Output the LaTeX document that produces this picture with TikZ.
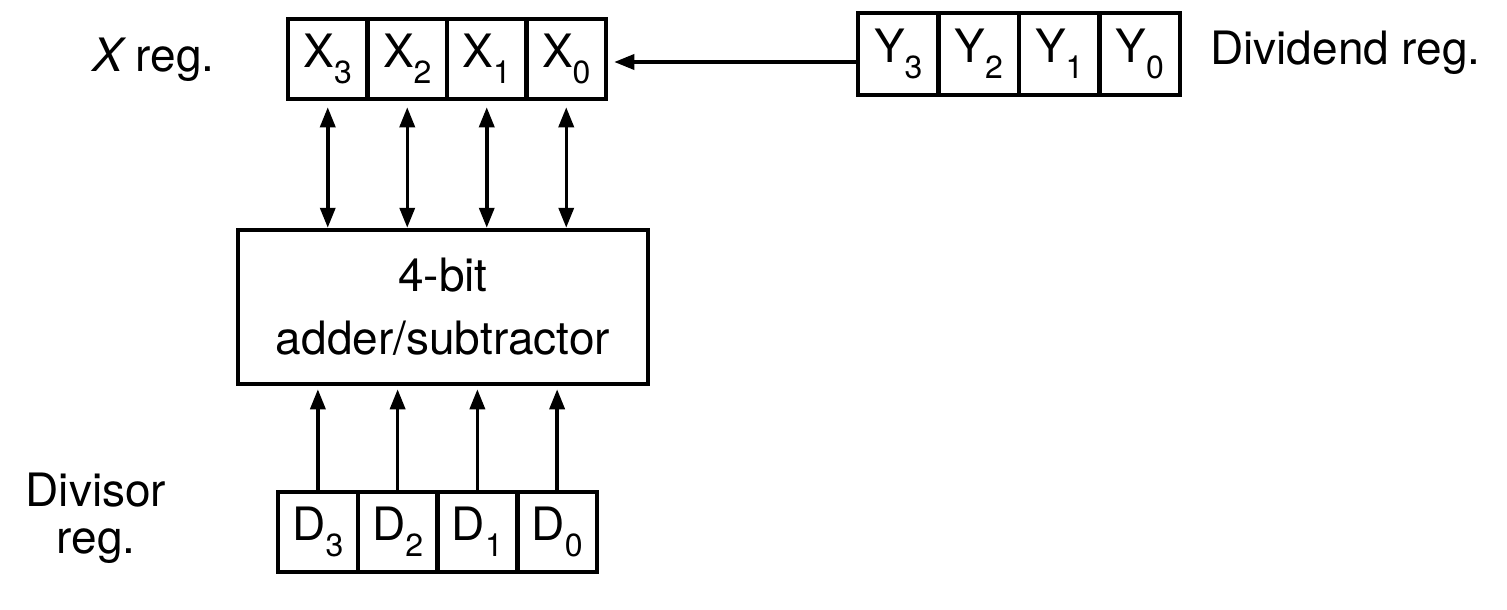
\documentclass[tikz,border=0pt]{standalone}
\usepackage{fontspec}
\setmainfont{TeX Gyre Heros}
\usetikzlibrary{arrows.meta}
\newcommand{\rsub}[1]{\raisebox{-16pt}{\fontsize{32}{32}\selectfont #1}}
\begin{document}
\begin{tikzpicture}[x=1pt,y=-1pt,
  every node/.style={font=\fontsize{46}{55}\selectfont},
  cell/.style={draw, line width=4.5pt, minimum width=79.5pt, minimum height=80pt, inner sep=0pt},
  ycell/.style={cell, minimum width=80.5pt, minimum height=82pt},
  dcell/.style={cell, minimum width=79.75pt},
  tip/.tip={Triangle[length=20pt,width=15pt]},
  arr/.style={line width=3.5pt, -tip},
  darr/.style={line width=3.5pt, tip-tip},
  lbl/.style={inner sep=0pt, anchor=base west}]
\useasboundingbox (0,0) rectangle (1507,610);
% X register
\node[cell] (x3) at (327.75,59) {X\rsub{3}};
\node[cell] (x2) at (407.25,59) {X\rsub{2}};
\node[cell] (x1) at (486.75,59) {X\rsub{1}};
\node[cell] (x0) at (566.25,59) {X\rsub{0}};
% Dividend register
\node[ycell] (y3) at (898.25,54) {Y\rsub{3}};
\node[ycell] (y2) at (978.75,54) {Y\rsub{2}};
\node[ycell] (y1) at (1059.25,54) {Y\rsub{1}};
\node[ycell] (y0) at (1139.75,54) {Y\rsub{0}};
% Divisor register
\node[dcell] (d3) at (317.875,532) {D\rsub{3}};
\node[dcell] (d2) at (397.625,532) {D\rsub{2}};
\node[dcell] (d1) at (477.375,532) {D\rsub{1}};
\node[dcell] (d0) at (557.125,532) {D\rsub{0}};
% adder
\node[draw, line width=4.5pt, minimum width=410pt, minimum height=154pt, align=center,
  font=\fontsize{46}{63}\selectfont] (add) at (443,307) {4-bit\\adder/subtractor};
% labels
\node[lbl] (xl) at (92,72) {{\itshape X} reg.};
\node[lbl] (dl) at (1210,65) {Dividend reg.};
\node[align=center, inner sep=0pt, anchor=base, font=\fontsize{46}{47}\selectfont] (vl) at (96,553) {Divisor\\reg.};
% connectors
\foreach \c in {x3,x2,x1,x0}
  \draw[darr, shorten <=6pt] (\c.south) -- (\c.south |- add.north);
\foreach \c in {d3,d2,d1,d0}
  \draw[arr, shorten >=3pt] (\c.north) -- (\c.north |- add.south);
\draw[arr, shorten >=6pt] (y3.west |- 0,62) -- (x0.east |- 0,62);
\end{tikzpicture}
\end{document}
